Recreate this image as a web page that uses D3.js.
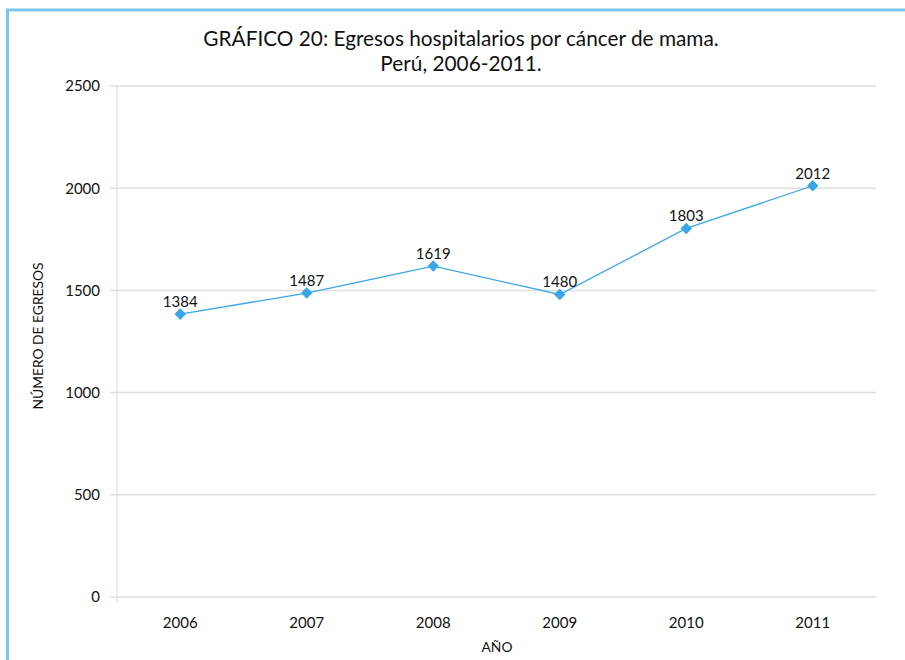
<!DOCTYPE html>
<html>
<head>
<meta charset="utf-8">
<script src="https://cdn.jsdelivr.net/npm/d3@7"></script>
<style>
  body { margin: 0; background: #fff; }
  text { font-family: Lato, "Open Sans", sans-serif; fill: #111; }
</style>
</head>
<body>
<div class="chart"></div>
<script>
var years = ["2006", "2007", "2008", "2009", "2010", "2011"];
var egresos = [1384, 1487, 1619, 1480, 1803, 2012];
var yTicks = [0, 500, 1000, 1500, 2000, 2500];
var titleLines = ["GRÁFICO 20: Egresos hospitalarios por cáncer de mama.", "Perú, 2006-2011."];

var width = 905, height = 660,
  margin = { top: 86, right: 29, bottom: 63, left: 117 },
  plotW = width - margin.left - margin.right,
  plotH = height - margin.top - margin.bottom;

var svg = d3.select(".chart").append("svg")
  .attr("width", width)
  .attr("height", height);

// frame
svg.append("rect")
  .attr("x", 7.5).attr("y", 10)
  .attr("width", 1000).attr("height", 1000)
  .attr("fill", "none")
  .attr("stroke", "#7cc6ee")
  .attr("stroke-width", 3);

svg.selectAll(".title")
  .data(titleLines)
  .enter().append("text")
    .attr("class", "title")
    .attr("x", 461)
    .attr("y", function(d, i) { return 46 + i * 25; })
    .attr("text-anchor", "middle")
    .style("font-size", "20.8px")
    .text(function(d) { return d; });

var g = svg.append("g")
  .attr("transform", "translate(" + margin.left + "," + margin.top + ")");

var x = d3.scaleBand().domain(years).range([0, plotW]).padding(0);
var y = d3.scaleLinear().domain([0, 2500]).range([plotH, 0]);

// grid
g.selectAll(".grid")
  .data(yTicks)
  .enter().append("line")
    .attr("x1", -7).attr("x2", plotW)
    .attr("y1", function(d) { return y(d); })
    .attr("y2", function(d) { return y(d); })
    .attr("stroke", "#dedede")
    .attr("stroke-width", 1.5);

g.append("line")
  .attr("x1", 0).attr("x2", 0)
  .attr("y1", 0).attr("y2", plotH + 5)
  .attr("stroke", "#dedede")
  .attr("stroke-width", 1.2);

var yAxis = g.append("g")
  .call(d3.axisLeft(y).tickValues(yTicks).tickFormat(d3.format("d")).tickSize(0).tickPadding(17));
yAxis.select(".domain").remove();
yAxis.selectAll("text").style("font-size", "15px").style("font-family", "Lato, sans-serif").attr("fill", "#111");

var xAxis = g.append("g")
  .attr("transform", "translate(0," + plotH + ")")
  .call(d3.axisBottom(x).tickSize(0).tickPadding(20));
xAxis.select(".domain").remove();
xAxis.selectAll("text").style("font-size", "15px").style("font-family", "Lato, sans-serif").attr("fill", "#111");

svg.append("text")
  .attr("x", 497).attr("y", 652)
  .attr("text-anchor", "middle")
  .style("font-size", "13.8px")
  .text("AÑO");

svg.append("text")
  .attr("transform", "translate(43,336) rotate(-90)")
  .attr("text-anchor", "middle")
  .style("font-size", "13.8px")
  .text("NÚMERO DE EGRESOS");

var cx = function(d, i) { return x(years[i]) + x.bandwidth() / 2; };

var line = d3.line()
  .x(cx)
  .y(function(d) { return y(d); });

g.append("path")
  .datum(egresos)
  .attr("d", line)
  .attr("fill", "none")
  .attr("stroke", "#3ba6e6")
  .attr("stroke-width", 1.3);

g.selectAll(".marker")
  .data(egresos)
  .enter().append("path")
    .attr("d", d3.symbol().type(d3.symbolDiamond2).size(85))
    .attr("transform", function(d, i) { return "translate(" + cx(d, i) + "," + y(d) + ")"; })
    .attr("fill", "#3ba6e6");

g.selectAll(".label")
  .data(egresos)
  .enter().append("text")
    .attr("x", cx)
    .attr("y", function(d) { return y(d) - 7; })
    .attr("text-anchor", "middle")
    .style("font-size", "15px")
    .text(function(d) { return d; });
</script>
</body>
</html>
